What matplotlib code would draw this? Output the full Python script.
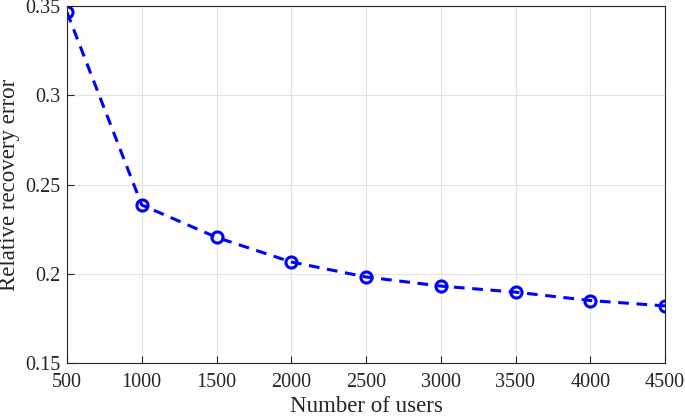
import matplotlib
matplotlib.use("Agg")
import matplotlib.pyplot as plt

users = [500, 1000, 1500, 2000, 2500, 3000, 3500, 4000, 4500]
error = [0.3465, 0.2385, 0.2204, 0.2066, 0.1982, 0.1931, 0.1897, 0.1850, 0.1820]
xticks = [500, 1000, 1500, 2000, 2500, 3000, 3500, 4000, 4500]
yticks = [0.15, 0.2, 0.25, 0.3, 0.35]
ytick_labels = ["0.15", "0.2", "0.25", "0.3", "0.35"]

plt.rcParams['font.family'] = ['Liberation Serif', 'DejaVu Serif']

fig = plt.figure(figsize=(6.85, 4.16), dpi=100)
ax = fig.add_axes([67/685, 1 - 363/416, (665-67)/685, (363-6)/416])

ax.plot(users, error, '--o', color='blue', lw=2.2, ms=8,
        mfc='none', mec='blue', mew=2.2, dashes=(3.5, 2.5))

ax.set_xlim(500, 4500)
ax.set_ylim(0.15, 0.35)
ax.set_xticks(xticks)
ax.set_yticks(yticks)
ax.set_yticklabels(ytick_labels)
ax.grid(True, color='#e3e3e3', lw=0.8)
ax.set_axisbelow(True)
ax.tick_params(direction='in', labelsize=14.5, colors='#262626', length=5, width=0.8)
ax.tick_params(axis='x', pad=7)
ax.tick_params(axis='y', pad=5)
for s in ax.spines.values():
    s.set_color('#262626')
    s.set_linewidth(0.8)

ax.set_xlabel('Number of users', fontsize=16.5, color='#262626', labelpad=3)
ax.set_ylabel('Relative recovery error', fontsize=16.5, color='#262626')
ax.yaxis.set_label_coords(-0.078, 0.5)

fig.savefig('out.png', dpi=100)
